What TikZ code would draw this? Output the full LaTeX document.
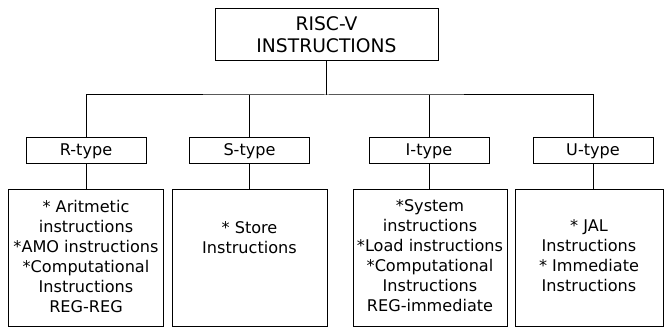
\documentclass[tikz,border=0pt]{standalone}
\usepackage{fontspec}
\setmainfont{DejaVu Sans}
\begin{document}
\begin{tikzpicture}[x=1pt,y=-1pt,line width=1pt,
  box/.style={draw=black,rectangle,inner sep=0pt},
  typebox/.style={box,minimum width=120pt,minimum height=26pt,font=\fontsize{16.1}{20}\selectfont},
  listbox/.style={box,minimum height=137pt},
  listtext/.style={align=center,inner sep=0pt,font=\fontsize{16.1}{20}\selectfont}]
\useasboundingbox (0,0) rectangle (664,328);
% root
\node[box,minimum width=223pt,minimum height=52pt,align=center,
      font=\fontsize{18.7}{22}\selectfont] (root) at (326.5,35) {RISC-V\\INSTRUCTIONS};
% instruction formats
\node[typebox] (rt) at (86,151)   {R-type};
\node[typebox] (st) at (249.5,151){S-type};
\node[typebox] (it) at (429,151)  {I-type};
\node[typebox] (ut) at (593,151)  {U-type};
% instruction classes per format
\node[listbox,minimum width=155pt] (rc) at (85.5,258.5) {};
\node[listbox,minimum width=155pt] (sc) at (249.5,258.5) {};
\node[listbox,minimum width=154pt] (ic) at (430,258.5) {};
\node[listbox,minimum width=148pt] (uc) at (589,258.5) {};
\node[listtext] (rtext) at (86,256) {* Aritmetic\\instructions\\*AMO instructions\\*Computational\\Instructions\\REG-REG};
\node[listtext] (stext) at (249.5,238) {* Store\\Instructions};
\node[listtext] (itext) at (430,255.5) {*System\\instructions\\*Load instructions\\*Computational\\Instructions\\REG-immediate};
\node[listtext] (utext) at (589,255.5) {* JAL\\Instructions\\* Immediate\\Instructions};
% tree connectors
\coordinate (bus) at (326.5,95);
\draw (root.south) -- (bus);
\draw (rt.north) |- (bus) -| (ut.north);
\draw (st.north) -- (st.north |- bus);
\draw (it.north) -- (it.north |- bus);
\draw (rt) -- (rt |- rc.north);
\draw (st) -- (st |- sc.north);
\draw (it) -- (it |- ic.north);
\draw (ut) -- (ut |- uc.north);
\end{tikzpicture}
\end{document}
